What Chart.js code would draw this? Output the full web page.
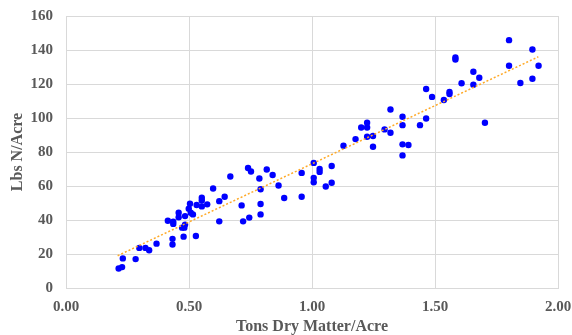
<!DOCTYPE html>
<html>
<head>
<meta charset="utf-8">
<script src="https://cdn.jsdelivr.net/npm/chart.js@4.4.1/dist/chart.umd.min.js"></script>
<style>
html,body{margin:0;padding:0;background:#fff;}
#wrap{width:572px;height:335px;position:relative;}
</style>
</head>
<body>
<div id="wrap"><canvas id="c" width="572" height="335"></canvas></div>
<script>
// Tons dry matter per acre (x) and lbs N per acre (y)
const dryMatter = [0.214,0.228,0.231,0.283,0.298,0.323,0.338,0.368,0.414,0.433,0.433,0.436,0.436,0.458,0.458,0.472,0.478,0.481,0.484,0.484,0.499,0.504,0.507,0.516,0.528,0.531,0.552,0.552,0.552,0.574,0.598,0.623,0.623,0.645,0.668,0.714,0.720,0.740,0.745,0.752,0.786,0.791,0.791,0.791,0.816,0.840,0.864,0.887,0.958,0.958,1.007,1.007,1.007,1.031,1.031,1.056,1.080,1.080,1.128,1.177,1.200,1.224,1.224,1.224,1.248,1.248,1.295,1.319,1.319,1.368,1.368,1.368,1.368,1.392,1.439,1.464,1.464,1.488,1.536,1.559,1.559,1.583,1.583,1.608,1.656,1.656,1.680,1.703,1.801,1.801,1.847,1.896,1.896,1.921];
const lbsN = [11.5,12.3,17.4,17.0,23.6,23.6,22.2,26.1,39.6,25.6,28.9,39.0,37.7,41.6,44.3,35.5,30.2,35.5,37.3,42.3,46.6,49.6,44.3,43.3,30.6,48.8,48.0,51.5,53.1,49.2,58.5,51.1,39.2,53.7,65.6,48.6,39.2,70.6,41.4,68.5,64.4,58.1,49.4,43.3,69.7,66.5,60.3,52.9,67.7,53.7,73.6,64.8,62.2,70.0,68.3,59.7,71.8,61.9,83.7,87.6,94.4,97.2,94.4,89.0,89.4,83.1,93.3,91.3,105.0,100.7,95.8,84.5,78.0,84.1,95.8,117.1,99.7,112.4,110.6,115.3,114.1,135.6,134.4,120.4,127.2,119.6,123.7,97.2,145.8,130.7,120.6,140.3,123.1,130.7];
// Trendline end points
const trendX = [0.21, 1.92];
const trendY = [19.0, 136.0];
// Axis ticks
const xTicks = [0, 0.5, 1.0, 1.5, 2.0];
const yTicks = [0, 20, 40, 60, 80, 100, 120, 140, 160];

const points = dryMatter.map((x, i) => ({x: x, y: lbsN[i]}));
const trend = trendX.map((x, i) => ({x: x, y: trendY[i]}));

const gray = '#595959';
const tickFont = {family: '"Liberation Serif", "Times New Roman", serif', size: 15, weight: 'bold', lineHeight: 1.2};
const titleFont = {family: '"Liberation Serif", "Times New Roman", serif', size: 16, weight: 'bold', lineHeight: 1.0};

new Chart(document.getElementById('c'), {
  type: 'scatter',
  data: {
    datasets: [
      {
        type: 'line',
        data: trend,
        borderColor: 'rgb(255,170,40)',
        borderWidth: 1.5,
        borderDash: [2, 2],
        pointRadius: 0,
        fill: false
      },
      {
        data: points,
        backgroundColor: '#0000FF',
        borderColor: '#0000FF',
        pointRadius: 3.2,
        borderWidth: 0
      }
    ]
  },
  options: {
    responsive: false,
    animation: false,
    layout: {padding: {top: 16, right: 14, left: 0, bottom: 0}},
    plugins: {legend: {display: false}, tooltip: {enabled: false}},
    scales: {
      x: {
        type: 'linear',
        min: 0, max: 2,
        afterBuildTicks: s => { s.ticks = xTicks.map(v => ({value: v})); },
        afterFit: s => { s.height = 47; s.paddingLeft = 0; s.paddingRight = 0; },
        grid: {color: '#d9d9d9', lineWidth: 1, drawTicks: false},
        border: {display: true, color: '#d9d9d9'},
        ticks: {padding: 10, color: gray, font: tickFont, callback: v => Number(v).toFixed(2), maxRotation: 0},
        title: {display: true, text: 'Tons Dry Matter/Acre', color: gray, font: titleFont, padding: {top: 0, bottom: 0}}
      },
      y: {
        type: 'linear',
        min: 0, max: 160,
        afterBuildTicks: s => { s.ticks = yTicks.map(v => ({value: v})); },
        afterFit: s => { s.width = 66; s.paddingTop = 0; s.paddingBottom = 0; },
        grid: {color: '#d9d9d9', lineWidth: 1, drawTicks: false},
        border: {display: true, color: '#d9d9d9'},
        ticks: {padding: 13, color: gray, font: tickFont},
        title: {display: true, text: 'Lbs N/Acre', color: gray, font: titleFont, padding: {top: 10, bottom: 0}}
      }
    }
  }
});
</script>
</body>
</html>
